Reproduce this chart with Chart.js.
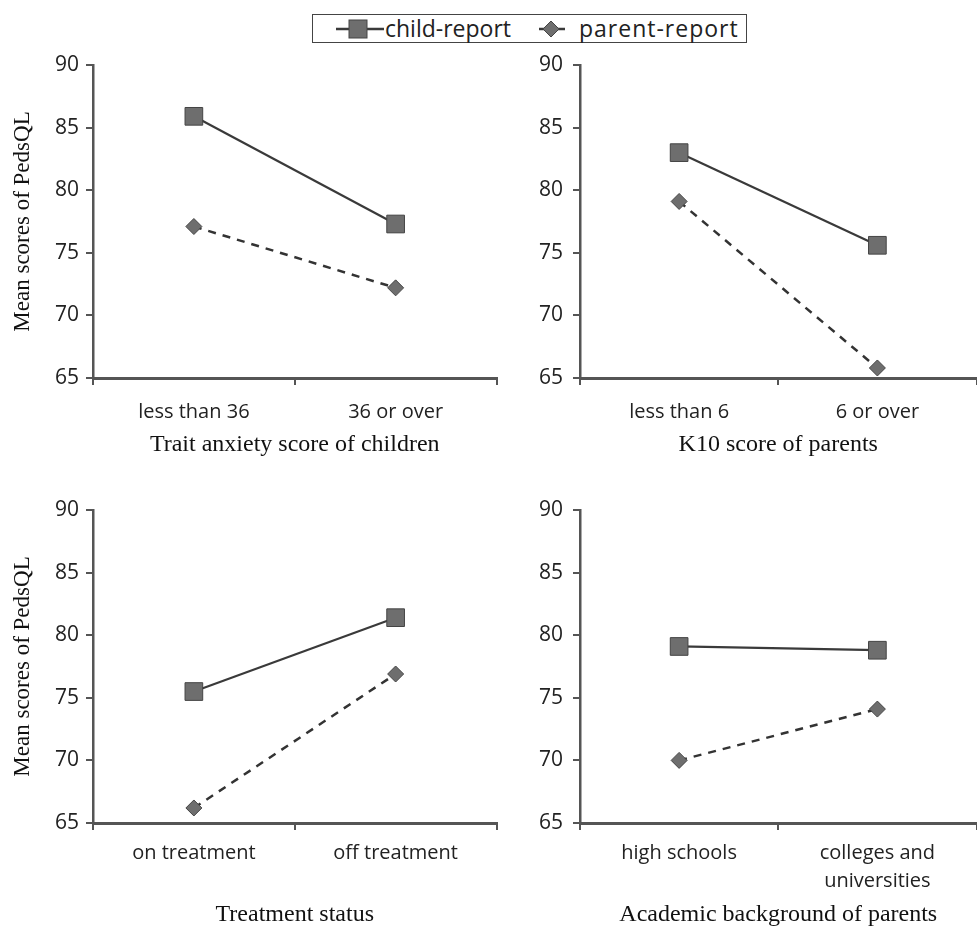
<!DOCTYPE html>
<html>
<head>
<meta charset="utf-8">
<script src="https://cdn.jsdelivr.net/npm/chart.js@4"></script>
<style>
  body { margin: 0; background: #fff; }
  #wrap { position: relative; width: 977px; height: 927px; overflow: hidden; }
  canvas { position: absolute; }
  #legend { position: absolute; left: 312px; top: 14px; width: 433px; height: 27px;
    border: 1.5px solid #444; font-family: "Open Sans", sans-serif; font-size: 23px; color: #222; }
  #legend svg, #legend span { position: absolute; }
  #legend span { top: -2px; line-height: 30px; }
</style>
</head>
<body>
<div id="wrap">
  <div id="legend">
    <svg style="left:23px;top:4px" width="50" height="20">
      <line x1="0" y1="10" x2="48" y2="10" stroke="#3a3a3a" stroke-width="2.5"/>
      <rect x="13" y="1" width="18" height="18" fill="#6e6e6e" stroke="#444" stroke-width="1"/>
    </svg>
    <span style="left:72px">child-report</span>
    <svg style="left:226px;top:4px" width="28" height="20">
      <line x1="0" y1="10" x2="26" y2="10" stroke="#3a3a3a" stroke-width="2.5"/>
      <polygon points="12,2 20,10 12,18 4,10" fill="#6e6e6e" stroke="#444" stroke-width="1"/>
    </svg>
    <span style="left:266px;letter-spacing:1px">parent-report</span>
  </div>
  <!-- canvases are 13px wider: Chart.js keeps room for the point overflow on the right -->
  <canvas id="c1" width="510" height="420" style="left:0;top:40px"></canvas>
  <canvas id="c2" width="510" height="420" style="left:480px;top:40px"></canvas>
  <canvas id="c3" width="510" height="457" style="left:0;top:470px"></canvas>
  <canvas id="c4" width="510" height="457" style="left:480px;top:470px"></canvas>
</div>
<script>
// categories
const traitLabels = ['less than 36', '36 or over'];
const k10Labels = ['less than 6', '6 or over'];
const treatLabels = ['on treatment', 'off treatment'];
const acadLabels = ['high schools', ['colleges and', 'universities']];

// mean PedsQL scores
const traitChild = [85.9, 77.3];
const traitParent = [77.1, 72.2];
const k10Child = [83.0, 75.6];
const k10Parent = [79.1, 65.8];
const treatChild = [75.5, 81.4];
const treatParent = [66.2, 76.9];
const acadChild = [79.1, 78.8];
const acadParent = [70.0, 74.1];

const yTicks = [65, 70, 75, 80, 85, 90];
const yTitle = 'Mean scores of PedsQL';

function makePanel(id, labels, child, parent, xTitle, opt) {
  const ctx = document.getElementById(id).getContext('2d');
  return new Chart(ctx, {
    type: 'line',
    data: {
      labels: labels,
      datasets: [{
        label: 'child-report',
        data: child,
        borderColor: '#3a3a3a',
        borderWidth: 2.2,
        pointStyle: 'rect',
        pointRadius: 12.5,
        pointBackgroundColor: '#6e6e6e',
        pointBorderColor: '#444',
        pointBorderWidth: 1,
        clip: false
      }, {
        label: 'parent-report',
        data: parent,
        borderColor: '#333',
        borderWidth: 2.5,
        borderDash: [8, 7],
        pointStyle: 'rectRot',
        pointRadius: 8,
        pointBackgroundColor: '#6e6e6e',
        pointBorderColor: '#444',
        pointBorderWidth: 1,
        clip: false
      }]
    },
    options: {
      responsive: false,
      animation: false,
      layout: { padding: { top: opt.top, right: 0, left: 0, bottom: 0 } },
      plugins: { legend: { display: false }, tooltip: { enabled: false } },
      scales: {
        x: {
          offset: true,
          afterFit: s => { s.height = opt.xh; s.paddingLeft = 0; s.paddingRight = 0; },
          grid: { offset: true, drawOnChartArea: false, tickLength: 7, color: '#555', lineWidth: 2 },
          border: { color: '#555', width: 3 },
          ticks: { color: '#222', padding: opt.xpad, maxRotation: 0,
            font: { family: 'Open Sans', size: 20, lineHeight: 1.4 } },
          title: { display: true, text: xTitle, color: '#111',
            padding: { top: 0, bottom: opt.tpad },
            font: { family: 'Liberation Serif', size: 24, lineHeight: 1 } }
        },
        y: {
          min: 65, max: 90,
          afterFit: s => { s.width = opt.yw; },
          afterBuildTicks: s => { s.ticks = yTicks.map(v => ({ value: v })); },
          grid: { drawOnChartArea: false, tickLength: 7, color: '#555', lineWidth: 2 },
          border: { color: '#555', width: 2.5 },
          ticks: { color: '#222', padding: opt.ypad,
            font: { family: 'Open Sans', size: 21 } },
          title: { display: opt.ytitle, text: yTitle, color: '#111',
            padding: { top: 9, bottom: 0 },
            font: { family: 'Liberation Serif', size: 23, lineHeight: 1.2 } }
        }
      }
    }
  });
}

makePanel('c1', traitLabels, traitChild, traitParent, 'Trait anxiety score of children',
  { top: 25, xh: 82, yw: 93, xpad: 13, ypad: 7, tpad: 3, ytitle: true });
makePanel('c2', k10Labels, k10Child, k10Parent, 'K10 score of parents',
  { top: 25, xh: 82, yw: 100, xpad: 13, ypad: 10, tpad: 3, ytitle: false });
makePanel('c3', treatLabels, treatChild, treatParent, 'Treatment status',
  { top: 40, xh: 104, yw: 93, xpad: 9, ypad: 7, tpad: 0, ytitle: true });
makePanel('c4', acadLabels, acadChild, acadParent, 'Academic background of parents',
  { top: 40, xh: 104, yw: 100, xpad: 9, ypad: 10, tpad: 0, ytitle: false });
</script>
</body>
</html>
